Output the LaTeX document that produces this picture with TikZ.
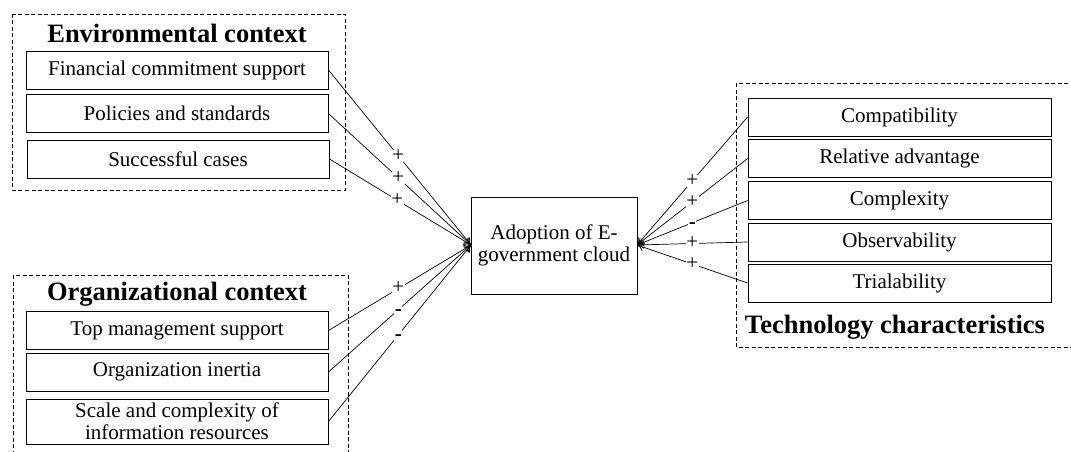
\documentclass[tikz,border=0pt]{standalone}
\usepackage{fontspec}
\setmainfont{Liberation Serif}
\usetikzlibrary{arrows.meta}
\begin{document}
\begin{tikzpicture}[x=1pt,y=-1pt,
  fbox/.style={draw,line width=0.9pt,minimum width=302pt,minimum height=38pt,inner sep=0pt,font=\fontsize{21}{22}\selectfont,align=center},
  grp/.style={draw,line width=0.8pt,dash pattern=on 4pt off 2.5pt},
  ttl/.style={font=\fontsize{26.5}{28}\selectfont\bfseries,inner sep=0pt},
  conn/.style={line width=0.7pt,-{To[length=7pt,width=8pt]}},
  sgn/.style={fill=white,inner sep=0.5pt,text height=10.5pt,text depth=0pt,font=\fontsize{21}{22}\selectfont}]
\clip (0,0) rectangle (1071,452);
\fill[white] (0,0) rectangle (1071,452);
% group frames
\draw[grp] (12.5,14) rectangle (345,190);
\draw[grp] (13,275) rectangle (348,470);
\draw[grp] (736,83) rectangle (1080,347);
% titles
\node[ttl] (envt) at (177,33) {Environmental context};
\node[ttl] (orgt) at (177,294) {Organizational context};
\node[ttl] (tect) at (895,327) {Technology characteristics};
% environmental
\node[fbox] (e1) at (177,70) {Financial commitment support};
\node[fbox] (e2) at (177,113.5) {Policies and standards};
\node[fbox] (e3) at (178,159) {Successful cases};
% organizational
\node[fbox] (o1) at (177,330.5) {Top management support};
\node[fbox] (o2) at (177,372) {Organization inertia};
\node[fbox,minimum height=45pt] (o3) at (177,421.5) {Scale and complexity of\\information resources};
% technology
\node[fbox,minimum width=303pt] (t1) at (899.5,117) {Compatibility};
\node[fbox,minimum width=303pt] (t2) at (899.5,158.5) {Relative advantage};
\node[fbox,minimum width=303pt] (t3) at (899.5,200.5) {Complexity};
\node[fbox,minimum width=303pt] (t4) at (899.5,242) {Observability};
\node[fbox,minimum width=303pt] (t5) at (899.5,283) {Trialability};
% center
\node[fbox,minimum width=166pt,minimum height=97pt] (c) at (554,245.5) {Adoption of E-\\government cloud};
\coordinate (cl) at (471,245);
\coordinate (cr) at (637,245);
% connectors
\draw[conn] (e1.east) -- node[sgn,pos=0.49]{+} (cl);
\draw[conn] (e2.east) -- node[sgn,pos=0.49]{+} (cl);
\draw[conn] (e3.east) -- node[sgn,pos=0.48]{+} (cl);
\draw[conn] (o1.east) -- node[sgn,pos=0.49]{+} (cl);
\draw[conn] (o2.east) -- node[sgn,pos=0.49]{\textbf{-}} (cl);
\draw[conn] (o3.east) -- node[sgn,pos=0.49]{\textbf{-}} (cl);
\draw[conn] (t1.west) -- node[sgn,pos=0.5]{+} (cr);
\draw[conn] (t2.west) -- node[sgn,pos=0.5]{+} (cr);
\draw[conn] (t3.west) -- node[sgn,pos=0.5]{\textbf{-}} (cr);
\draw[conn] (t4.west) -- node[sgn,pos=0.5]{+} (cr);
\draw[conn] (t5.west) -- node[sgn,pos=0.5]{+} (cr);
\end{tikzpicture}
\end{document}
